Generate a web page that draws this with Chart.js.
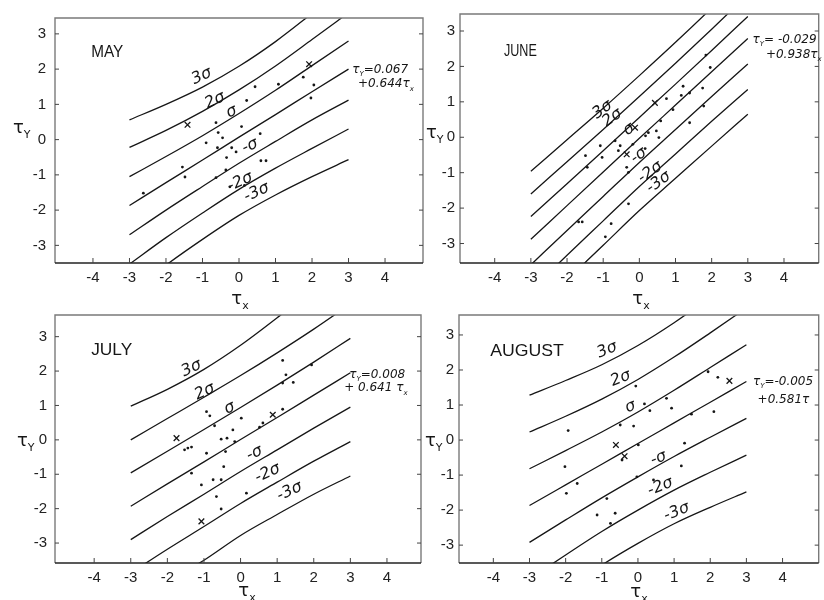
<!DOCTYPE html>
<html>
<head>
<meta charset="utf-8">
<script src="https://cdn.jsdelivr.net/npm/chart.js@4.4.1/dist/chart.umd.min.js"></script>
<style>
  html, body { margin: 0; padding: 0; background: #fff; }
  #wrap { position: relative; width: 824px; height: 600px; background: #fff; }
  #wrap canvas { position: absolute; left: 0; top: 0; }
</style>
</head>
<body>
<div id="wrap">
  <canvas id="c0" width="824" height="600"></canvas>
  <canvas id="c1" width="824" height="600"></canvas>
  <canvas id="c2" width="824" height="600"></canvas>
  <canvas id="c3" width="824" height="600"></canvas>
</div>
<script>
// ---------- tick labels ----------
const xTicks = [-4, -3, -2, -1, 0, 1, 2, 3, 4];
const xTickLabels = ['-4', '-3', '-2', '-1', '0', '1', '2', '3', '4'];
const yTicks = [-3, -2, -1, 0, 1, 2, 3];
const yTickLabels = ['-3', '-2', '-1', '0', '1', '2', '3'];

// x positions where the band curves were read
const curveX = [-3, -2, -1, 0, 1, 2, 3];

// ---------- MAY ----------
const mayUp3 = [0.56, 1.00, 1.49, 2.08, 2.78, 3.58, 4.40];
const mayUp2 = [-0.22, 0.26, 0.80, 1.41, 2.09, 2.84, 3.60];
const mayUp1 = [-1.05, -0.48, 0.11, 0.74, 1.40, 2.10, 2.80];
const mayMid = [-1.87, -1.22, -0.58, 0.07, 0.71, 1.36, 2.00];
const mayDn1 = [-2.70, -2.00, -1.33, -0.67, -0.05, 0.56, 1.12];
const mayDn2 = [-3.53, -2.78, -2.08, -1.41, -0.81, -0.25, 0.30];
const mayDn3 = [-4.36, -3.56, -2.83, -2.15, -1.57, -1.05, -0.57];
const mayDots = [[-0.63,0.48],[-0.90,-0.09],[-0.57,0.20],[-0.45,0.05],[-0.59,-0.23],[-0.20,-0.23],[-0.34,-0.51],[-0.08,-0.35],[0.07,0.37],[0.58,0.17],[0.21,1.11],[0.44,1.50],[1.08,1.57],[1.76,1.77],[2.05,1.55],[1.97,1.18],[0.60,-0.60],[0.74,-0.60],[-0.36,-0.86],[-0.63,-1.08],[-1.55,-0.78],[-1.48,-1.06],[-2.62,-1.52],[-0.25,-1.34],[0.15,-1.30]];
const mayCross = [[-1.41,0.42],[1.92,2.14]];

// ---------- JUNE ----------
const junUp3 = [-0.96, -0.07, 0.82, 1.74, 2.68, 3.65, 4.65];
const junUp2 = [-1.60, -0.69, 0.22, 1.15, 2.09, 3.05, 4.03];
const junUp1 = [-2.24, -1.31, -0.38, 0.56, 1.50, 2.45, 3.41];
const junMid = [-2.88, -1.93, -0.98, -0.03, 0.91, 1.85, 2.79];
const junDn1 = [-3.60, -2.63, -1.67, -0.71, 0.22, 1.15, 2.07];
const junDn2 = [-4.32, -3.33, -2.36, -1.39, -0.47, 0.45, 1.35];
const junDn3 = [-5.04, -4.03, -3.05, -2.07, -1.16, -0.25, 0.65];
const junDots = [[1.84,2.32],[1.96,1.97],[1.75,1.39],[1.39,1.25],[1.21,1.44],[1.16,1.18],[0.93,0.78],[0.75,1.09],[0.59,0.46],[0.54,-0.01],[0.47,0.18],[0.25,0.13],[0.17,0.04],[0.16,-0.32],[1.39,0.41],[1.78,0.88],[-0.18,-0.20],[-0.53,-0.24],[-0.58,-0.38],[-0.67,-0.10],[-1.08,-0.24],[-1.49,-0.52],[-1.03,-0.57],[-1.44,-0.85],[-0.35,-0.85],[-0.30,-0.99],[-0.30,-1.88],[-0.78,-2.44],[-0.94,-2.81],[-1.58,-2.39],[-1.68,-2.39]];
const junCross = [[0.43,0.97],[-0.12,0.27],[-0.35,-0.48]];

// ---------- JULY ----------
const julUp3 = [0.98, 1.47, 2.05, 2.75, 3.55, 4.40, 5.30];
const julUp2 = [0.00, 0.62, 1.24, 1.87, 2.53, 3.22, 3.95];
const julUp1 = [-0.96, -0.33, 0.30, 0.94, 1.59, 2.26, 2.95];
const julMid = [-1.93, -1.28, -0.64, 0.01, 0.65, 1.30, 1.95];
const julDn1 = [-2.90, -2.23, -1.58, -0.92, -0.29, 0.34, 0.95];
const julDn2 = [-3.87, -3.18, -2.52, -1.85, -1.23, -0.62, -0.05];
const julDn3 = [-4.84, -4.13, -3.50, -2.78, -2.17, -1.58, -1.05];
const julDots = [[1.15,2.31],[1.94,2.18],[1.24,1.89],[1.15,1.65],[1.44,1.67],[1.15,0.89],[0.61,0.49],[0.52,0.37],[-0.93,0.82],[-0.84,0.70],[-0.71,0.41],[0.02,0.63],[-0.21,0.29],[-0.53,0.02],[-0.37,0.05],[-0.16,-0.05],[-1.53,-0.29],[-1.44,-0.24],[-1.34,-0.21],[-0.93,-0.39],[-0.41,-0.34],[-0.46,-0.78],[-1.34,-0.97],[-1.07,-1.31],[-0.75,-1.16],[-0.53,-1.16],[-0.66,-1.65],[0.16,-1.55],[-0.53,-2.01]];
const julCross = [[-1.75,0.05],[0.88,0.73],[-1.07,-2.37]];

// ---------- AUGUST ----------
const augUp3 = [1.28, 1.70, 2.15, 2.70, 3.35, 4.08, 4.82];
const augUp2 = [0.23, 0.68, 1.17, 1.73, 2.37, 3.06, 3.77];
const augUp1 = [-0.82, -0.30, 0.23, 0.80, 1.42, 2.07, 2.72];
const augMid = [-1.87, -1.28, -0.69, -0.10, 0.49, 1.08, 1.67];
const augDn1 = [-2.92, -2.28, -1.65, -1.05, -0.47, 0.08, 0.62];
const augDn2 = [-3.97, -3.28, -2.61, -2.00, -1.43, -0.92, -0.43];
const augDn3 = [-5.02, -4.28, -3.57, -2.95, -2.39, -1.92, -1.48];
const augDots = [[-0.06,1.54],[2.21,1.79],[1.94,1.95],[0.18,1.03],[0.33,0.84],[0.79,1.19],[0.93,0.91],[1.48,0.74],[2.10,0.81],[-1.93,0.27],[-0.49,0.43],[-0.12,0.40],[0.01,-0.14],[1.29,-0.09],[-2.02,-0.76],[1.20,-0.74],[-0.44,-0.57],[-1.68,-1.24],[-1.98,-1.52],[-0.03,-1.05],[-0.86,-1.67],[0.43,-1.14],[-1.13,-2.14],[-0.63,-2.09],[-0.76,-2.38]];
const augCross = [[2.53,1.69],[-0.61,-0.14],[-0.37,-0.46]];

const bandNames = ['3σ', '2σ', 'σ', '', '-σ', '-2σ', '-3σ'];

// ---------- layout / annotations (not data) ----------
const panels = [
  { canvas: 'c0', title: 'MAY', titleScale: 0.9, curves: [mayUp3, mayUp2, mayUp1, mayMid, mayDn1, mayDn2, mayDn3],
    dots: mayDots, cross: mayCross,
    xr: [-5.04, 5.04], yr: [-3.50, 3.45], area: { l: 55, r: 423, t: 12, b: 263 }, yPad: 9,
    titlePos: [-3.61, 2.49], angle: -25,
    labelPos: [[-1.02, 1.80], [-0.66, 1.11], [-0.20, 0.79], null, [0.30, -0.18], [0.03, -1.20], [0.48, -1.50]],
    eq: ['τ_Y=0.067', '+0.644τ_x'], eqPos: [[3.10, 1.99], [3.26, 1.57]],
    yTitle: [13, 128], xTitle: [240, 299] },
  { canvas: 'c1', title: 'JUNE', titleScale: 0.74, curves: [junUp3, junUp2, junUp1, junMid, junDn1, junDn2, junDn3],
    dots: junDots, cross: junCross,
    xr: [-4.96, 4.96], yr: [-3.55, 3.48], area: { l: 460, r: 822, t: 12, b: 263 }, yPad: 5,
    titlePos: [-3.29, 2.44], angle: -36,
    labelPos: [[-1.02, 0.78], [-0.75, 0.55], [-0.29, 0.22], null, [-0.02, -0.52], [0.30, -0.99], [0.53, -1.27]],
    eq: ['τ_Y= -0.029', '+0.938τ_x'], eqPos: [[3.13, 2.75], [3.50, 2.32]],
    yTitle: [426, 133], xTitle: [641, 299] },
  { canvas: 'c2', title: 'JULY', titleScale: 1.02, curves: [julUp3, julUp2, julUp1, julMid, julDn1, julDn2, julDn3],
    dots: julDots, cross: julCross,
    xr: [-5.07, 4.93], yr: [-3.58, 3.63], area: { l: 55, r: 421, t: 315, b: 563 }, yPad: 8,
    titlePos: [-3.52, 2.60], angle: -25,
    labelPos: [[-1.34, 2.08], [-0.98, 1.40], [-0.30, 0.92], null, [0.38, -0.39], [0.74, -0.97], [1.34, -1.50]],
    eq: ['τ_Y=0.008', '+ 0.641 τ_x'], eqPos: [[2.97, 1.89], [2.83, 1.50]],
    yTitle: [17, 441], xTitle: [247, 591] },
  { canvas: 'c3', title: 'AUGUST', titleScale: 1.04, curves: [augUp3, augUp2, augUp1, augMid, augDn1, augDn2, augDn3],
    dots: augDots, cross: augCross,
    xr: [-4.95, 5.0], yr: [-3.51, 3.57], area: { l: 459, r: 822, t: 315, b: 563 }, yPad: 5,
    titlePos: [-3.07, 2.52], angle: -22,
    labelPos: [[-0.85, 2.57], [-0.48, 1.76], [-0.21, 0.95], null, [0.57, -0.52], [0.62, -1.33], [1.07, -2.05]],
    eq: ['τ_Y=-0.005', '+0.581τ'], eqPos: [[3.18, 1.67], [3.31, 1.14]],
    yTitle: [425, 441], xTitle: [639, 592] }
];

const Y_AXIS_W = 40, X_AXIS_H = 30;
const INK = '#161616';

function drawRich(ctx, str, x, y, size, align, style) {
  const parts = [];
  for (let i = 0; i < str.length; i++) {
    if (str[i] === '_') { parts.push({ t: str[i + 1], sub: true }); i++; }
    else if (parts.length && !parts[parts.length - 1].sub) parts[parts.length - 1].t += str[i];
    else parts.push({ t: str[i], sub: false });
  }
  const fam = '"DejaVu Sans", sans-serif';
  const font = p => `${style || ''} ${p.sub ? Math.round(size * 0.62) : size}px ${fam}`;
  let w = 0;
  parts.forEach(p => { ctx.font = font(p); p.w = ctx.measureText(p.t).width; w += p.w; });
  let cx = align === 'center' ? x - w / 2 : x;
  ctx.textAlign = 'left';
  ctx.textBaseline = 'middle';
  parts.forEach(p => { ctx.font = font(p); ctx.fillText(p.t, cx, p.sub ? y + size * 0.38 : y); cx += p.w; });
}

const decor = {
  id: 'decor',
  afterDraw(chart, args, o) {
    const { ctx, chartArea: a } = chart;
    const sx = chart.scales.x, sy = chart.scales.y;
    const P = o.panel;
    ctx.save();
    // frame
    ctx.strokeStyle = '#7a7a7a';
    ctx.lineWidth = 1.4;
    ctx.beginPath();
    ctx.moveTo(a.left, a.bottom); ctx.lineTo(a.left, a.top);
    ctx.lineTo(a.right, a.top); ctx.lineTo(a.right, a.bottom);
    ctx.stroke();
    ctx.strokeStyle = '#222';
    ctx.lineWidth = 1.6;
    ctx.beginPath(); ctx.moveTo(a.left, a.bottom); ctx.lineTo(a.right, a.bottom); ctx.stroke();
    // inward ticks
    ctx.lineWidth = 1;
    ctx.strokeStyle = '#444';
    ctx.beginPath();
    xTicks.forEach(v => { const p = sx.getPixelForValue(v); ctx.moveTo(p, a.bottom); ctx.lineTo(p, a.bottom - 5); });
    yTicks.forEach(v => { const p = sy.getPixelForValue(v);
      ctx.moveTo(a.left, p); ctx.lineTo(a.left + 4, p);
      ctx.moveTo(a.right, p); ctx.lineTo(a.right - 4, p); });
    ctx.stroke();
    ctx.fillStyle = INK;
    // sigma labels
    P.labelPos.forEach((pos, i) => {
      if (!pos) return;
      ctx.save();
      ctx.translate(sx.getPixelForValue(pos[0]), sy.getPixelForValue(pos[1]));
      ctx.rotate(P.angle * Math.PI / 180);
      ctx.font = 'italic 16px "DejaVu Sans", sans-serif';
      ctx.textAlign = 'center';
      ctx.textBaseline = 'middle';
      ctx.fillText(bandNames[i], 0, 0);
      ctx.restore();
    });
    // month title
    ctx.save();
    ctx.translate(sx.getPixelForValue(P.titlePos[0]), sy.getPixelForValue(P.titlePos[1]));
    ctx.scale(P.titleScale, 1);
    ctx.font = '17px "Liberation Sans", sans-serif';
    ctx.textAlign = 'center';
    ctx.textBaseline = 'middle';
    ctx.fillText(P.title, 0, 0);
    ctx.restore();
    // regression equation
    P.eq.forEach((t, i) => {
      drawRich(ctx, t, sx.getPixelForValue(P.eqPos[i][0]), sy.getPixelForValue(P.eqPos[i][1]), 12, 'left', 'italic');
    });
    // axis titles
    drawRich(ctx, 'τ_Y', P.yTitle[0], P.yTitle[1], 18, 'left', '');
    drawRich(ctx, 'τ_x', P.xTitle[0], P.xTitle[1], 18, 'center', '');
    ctx.restore();
  }
};

function toPts(arr) { return arr.map(p => ({ x: p[0], y: p[1] })); }

panels.forEach(P => {
  const datasets = P.curves.map(c => ({
    type: 'line',
    data: curveX.map((x, i) => ({ x: x, y: c[i] })),
    borderColor: INK, borderWidth: 1.3, pointRadius: 0, showLine: true,
    cubicInterpolationMode: 'monotone', fill: false
  }));
  datasets.push({ type: 'scatter', data: toPts(P.dots), pointRadius: 1.4,
    backgroundColor: INK, borderColor: INK, borderWidth: 0 });
  datasets.push({ type: 'scatter', data: toPts(P.cross), pointStyle: 'crossRot', pointRadius: 4,
    borderColor: INK, backgroundColor: INK, borderWidth: 1.3 });
  const a = P.area;
  new Chart(document.getElementById(P.canvas), {
    type: 'scatter',
    data: { datasets },
    options: {
      responsive: false, animation: false, events: [],
      layout: { padding: { left: a.l - Y_AXIS_W, top: a.t, right: 824 - a.r, bottom: 600 - a.b - X_AXIS_H } },
      plugins: { legend: { display: false }, tooltip: { enabled: false }, decor: { panel: P } },
      scales: {
        x: {
          type: 'linear', min: P.xr[0], max: P.xr[1],
          afterBuildTicks: ax => { ax.ticks = xTicks.map(v => ({ value: v })); },
          afterFit: ax => { ax.height = X_AXIS_H; },
          ticks: { autoSkip: false, maxRotation: 0, padding: 6, color: '#222',
            font: { family: '"Liberation Sans", sans-serif', size: 15 },
            callback: (v, i) => xTickLabels[i] },
          grid: { display: false, drawTicks: false },
          border: { display: false }
        },
        y: {
          type: 'linear', min: P.yr[0], max: P.yr[1],
          afterBuildTicks: ax => { ax.ticks = yTicks.map(v => ({ value: v })); },
          afterFit: ax => { ax.width = Y_AXIS_W; },
          ticks: { autoSkip: false, padding: P.yPad, color: '#222',
            font: { family: '"Liberation Sans", sans-serif', size: 15 },
            callback: (v, i) => yTickLabels[i] },
          grid: { display: false, drawTicks: false },
          border: { display: false }
        }
      }
    },
    plugins: [decor]
  });
});
</script>
</body>
</html>
